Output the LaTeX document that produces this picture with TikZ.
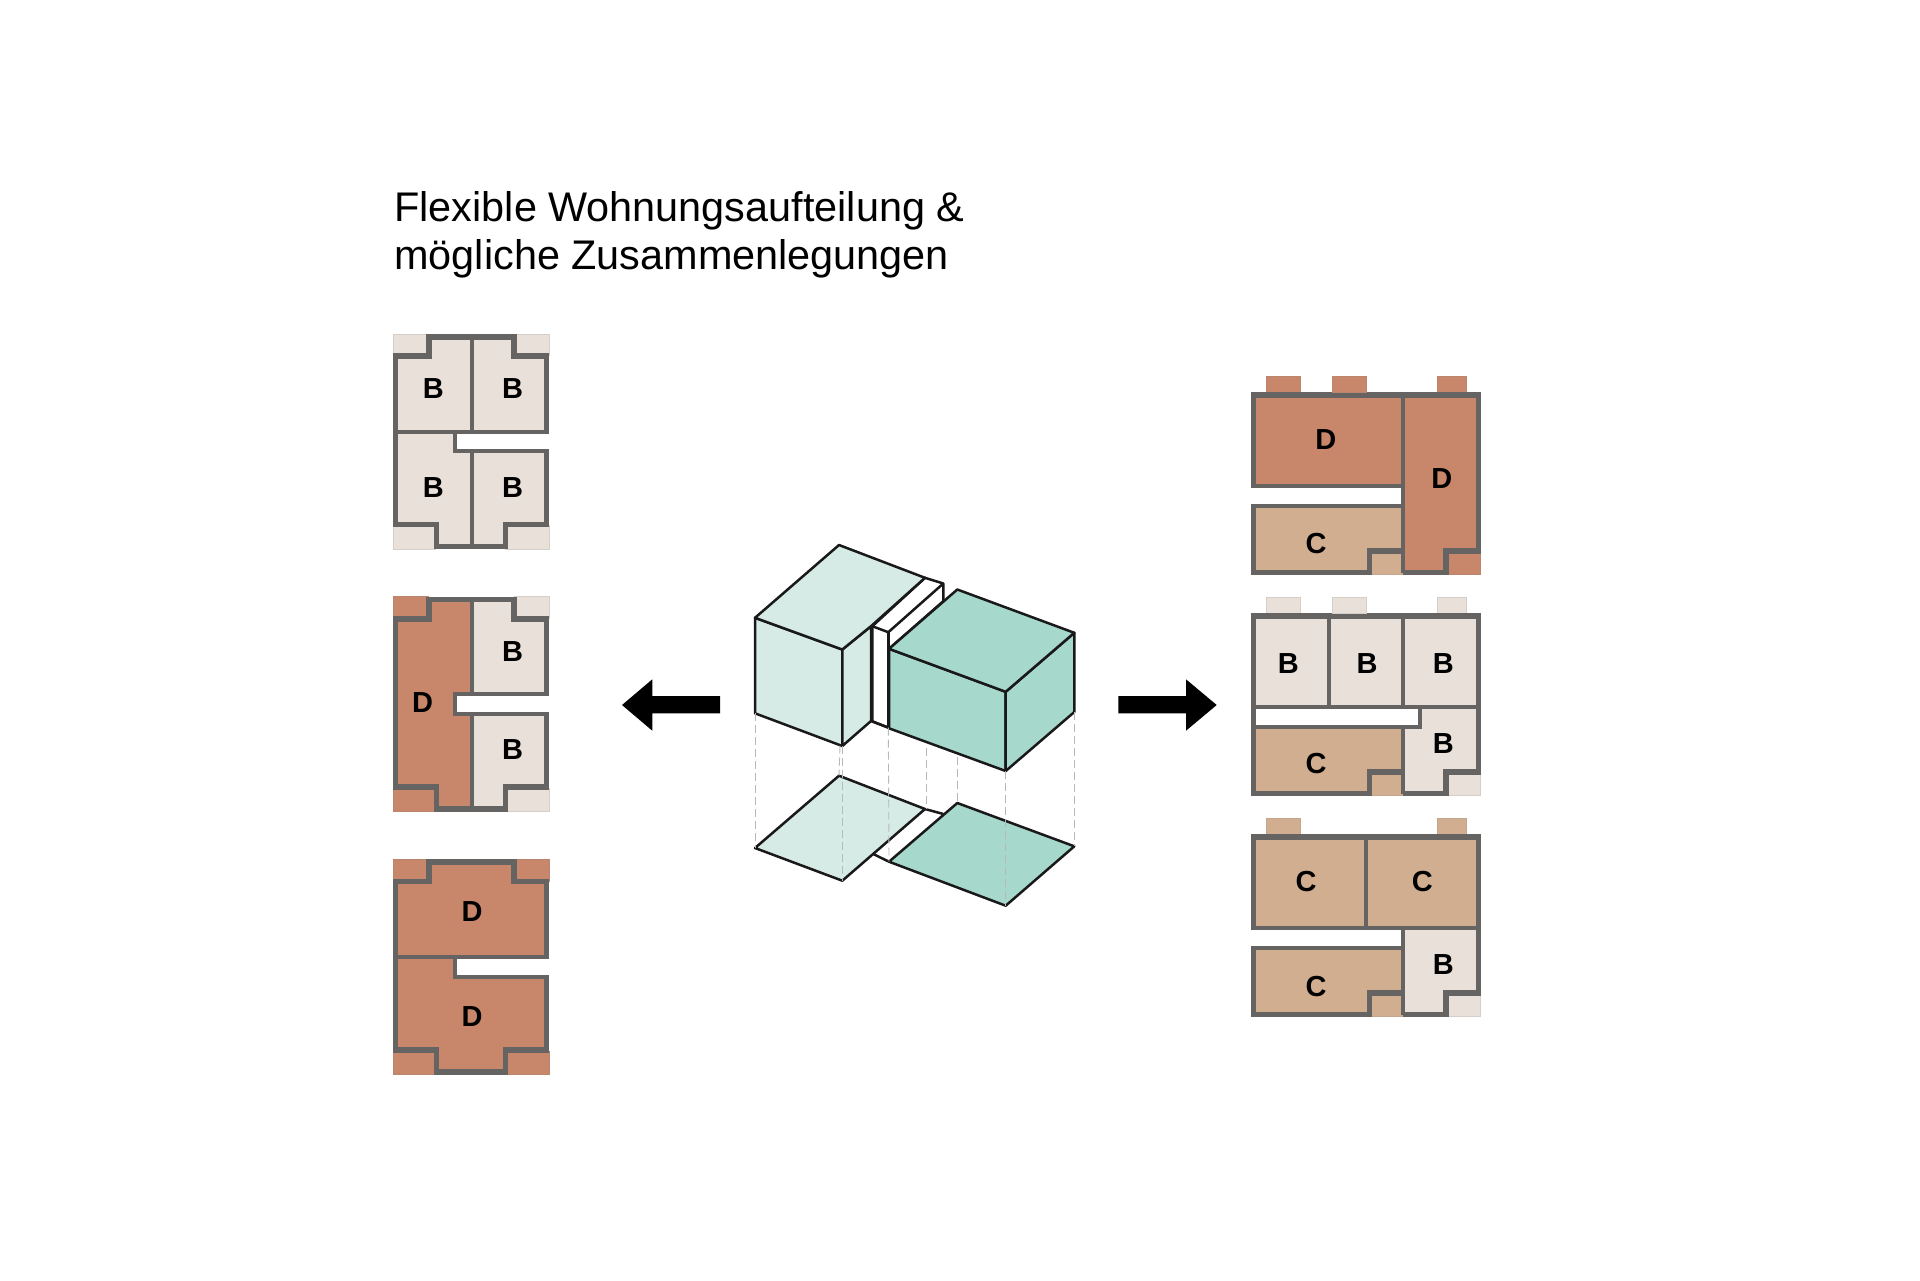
\documentclass[tikz,border=0pt]{standalone}
\usepackage{fontspec}
\setmainfont{Liberation Sans}
\definecolor{bcol}{HTML}{E9E1D9}
\definecolor{ccol}{HTML}{D2AE90}
\definecolor{dcol}{HTML}{C8866A}
\definecolor{wallcol}{HTML}{666462}
\definecolor{greenA}{HTML}{D6EBE6}
\definecolor{greenB}{HTML}{A6D8CC}
\tikzset{
	room/.style={font=\bfseries\fontsize{14.5}{14.5}\selectfont,inner sep=0pt},
	wall/.style={draw=wallcol,line width=2.8pt,line join=miter},
	inner/.style={draw=wallcol,line width=2pt},
	balcony/.style={draw=#1!82!gray,line width=0.5pt},
	edgeline/.style={draw=black!90,line width=1.25pt,line join=round},
	guide/.style={draw=black!28,line width=0.45pt,dash pattern=on 4pt off 2pt},
	bigarrow/.style={fill=black}
}
% plan with the core on the right, args: top, four room colours, partitions
\newcommand{\leftplan}[6]{
	\begin{scope}[shift={(393,#1)}]
		\fill[#2] (0,0) rectangle (80,99);
		\fill[#3] (78.7,0) rectangle (156,99);
		\fill[#4] (0,98) rectangle (80,215);
		\fill[#5] (78.7,98) rectangle (156,215);
		\draw[balcony=#2] (0,22) -- (0,0) -- (35.7,0);
		\draw[balcony=#3] (120.7,0) -- (156,0) -- (156,22);
		\draw[balcony=#4] (0,191) -- (0,215) -- (43.4,215);
		\draw[balcony=#5] (112.4,215) -- (156,215) -- (156,191);
		\fill[white] (62,99) rectangle (156,116);
		\draw[wall] (153.4,97.7) -- (153.4,22) -- (120.7,22) -- (120.7,2.7) -- (35.7,2.7) -- (35.7,22) -- (2.6,22) -- (2.6,190.5) -- (43.4,190.5) -- (43.4,212.4) -- (112.4,212.4) -- (112.4,190.5) -- (153.4,190.5) -- (153.4,117.3);
		\draw[inner] (156,97.7) -- (62,97.7) -- (62,117.3) -- (156,117.3);
		#6
	\end{scope}
}
% plan with the core at the bottom, args: top, top colour, lower right colour, corridor and partitions
\newcommand{\rightplan}[4]{
	\begin{scope}[shift={(1251,#1)}]
		\fill[#2] (0,0) rectangle (229.7,95);
		\fill[ccol] (0,94) rectangle (153,182.6);
		\fill[#3] (152.3,94) rectangle (229.7,182.6);
		\filldraw[fill=#2,balcony=#2] (15,0) rectangle (49,-16.3);
		\filldraw[fill=#2,balcony=#2] (186.3,0) rectangle (215,-16.3);
		\draw[balcony=ccol] (120,182.6) -- (152.3,182.6);
		\draw[balcony=#3] (196,182.6) -- (229.7,182.6) -- (229.7,160);
		\draw[wall] (2.6,94) -- (2.6,2.6) -- (227.3,2.6) -- (227.3,158.4) -- (194.7,158.4) -- (194.7,180.2) -- (152.3,180.2);
		\draw[wall] (152.3,158.4) -- (118.3,158.4) -- (118.3,180.2) -- (2.6,180.2) -- (2.6,113.4);
		#4
	\end{scope}
}
\begin{document}
\begin{tikzpicture}[x=0.5pt,y=-0.5pt]
	\useasboundingbox (0,0) rectangle (1920,1280);
	\fill[white] (0,0) rectangle (1920,1280);

	\node[anchor=north west,inner sep=0pt,align=left,font=\fontsize{20.7}{24}\selectfont] (title) at (394,191) {Flexible Wohnungsaufteilung \&\\m\"ogliche Zusammenlegungen};

	% left column
	\leftplan{334}{bcol}{bcol}{bcol}{bcol}{
		\draw[inner] (2,97.7) -- (62,97.7);
		\draw[inner] (78.7,2.7) -- (78.7,97.7);
		\draw[inner] (78.7,117.3) -- (78.7,212.4);
	}
	\leftplan{596.7}{dcol}{bcol}{dcol}{bcol}{
		\draw[inner] (78.7,2.7) -- (78.7,97.7);
		\draw[inner] (78.7,117.3) -- (78.7,212.4);
	}
	\leftplan{859.5}{dcol}{dcol}{dcol}{dcol}{
		\draw[inner] (2,97.7) -- (62,97.7);
	}

	\node[room] (bA) at (433.3,388.3) {B};
	\node[room] (bB) at (512.7,388.3) {B};
	\node[room] (bC) at (433.3,487.7) {B};
	\node[room] (bD) at (512.7,487.7) {B};
	\node[room] (dA) at (422.7,702.3) {D};
	\node[room] (bE) at (512.7,651.7) {B};
	\node[room] (bF) at (512.7,750) {B};
	\node[room] (dB) at (472,911.7) {D};
	\node[room] (dC) at (472,1016.7) {D};

	% right column
	\rightplan{392.3}{dcol}{dcol}{
		\filldraw[fill=dcol,balcony=dcol] (81.3,0) rectangle (115.7,-16.3);
		\fill[white] (0,95.4) rectangle (150.3,111.7);
		\draw[inner] (0,94) -- (152.3,94);
		\draw[inner] (0,113.4) -- (152.3,113.4);
		\draw[inner] (152.3,2.4) -- (152.3,180.2);
	}
	\rightplan{613.3}{bcol}{bcol}{
		\filldraw[fill=bcol,balcony=bcol] (81.3,0) rectangle (115.7,-16.3);
		\fill[white] (5,95.7) rectangle (167.3,111.7);
		\draw[wall] (2.6,92) -- (2.6,115);
		\draw[inner] (2.6,94) -- (227.3,94);
		\draw[inner] (2.6,113.4) -- (169.3,113.4) -- (169.3,94);
		\draw[inner] (78,2.4) -- (78,94);
		\draw[inner] (152.3,2.4) -- (152.3,94);
		\draw[inner] (152.3,113.4) -- (152.3,180.2);
	}
	\rightplan{834.3}{ccol}{bcol}{
		\fill[white] (0,95.7) rectangle (150.3,111.7);
		\draw[inner] (0,94) -- (227.3,94);
		\draw[inner] (0,113.4) -- (152.3,113.4);
		\draw[inner] (115,2.4) -- (115,94);
		\draw[inner] (152.3,94) -- (152.3,180.2);
	}

	\node[room] (dD) at (1325.7,440) {D};
	\node[room] (dE) at (1441.7,479) {D};
	\node[room] (cA) at (1316,543.3) {C};
	\node[room] (bG) at (1288.3,664) {B};
	\node[room] (bH) at (1367,664) {B};
	\node[room] (bI) at (1443.3,664) {B};
	\node[room] (bJ) at (1443.3,744) {B};
	\node[room] (cB) at (1316,764) {C};
	\node[room] (cC) at (1306,881.7) {C};
	\node[room] (cD) at (1422.3,881.7) {C};
	\node[room] (cE) at (1316,986) {C};
	\node[room] (bK) at (1443.3,965) {B};

	% arrows
	\fill[bigarrow] (622,705) -- (652.3,679.3) -- (652.3,696) -- (720,696) -- (720,713.3) -- (652.3,713.3) -- (652.3,730.7) -- cycle;
	\fill[bigarrow] (1216.7,705) -- (1186,679.3) -- (1186,696) -- (1118.3,696) -- (1118.3,713.3) -- (1186,713.3) -- (1186,730.7) -- cycle;

	% blocks
	\coordinate (la) at (755,617.8);
	\coordinate (lb) at (839,545);
	\coordinate (lc) at (842.3,649.5);
	\coordinate (ld) at (925,577.8);
	\coordinate (le) at (871,626.2);
	\coordinate (laB) at (755,713.3);
	\coordinate (lcB) at (842.3,746);
	\coordinate (leB) at (871,721);
	\coordinate (ka) at (872.3,626.2);
	\coordinate (kb) at (888.3,632.2);
	\coordinate (kc) at (943.3,583.5);
	\coordinate (kd) at (943.3,601.2);
	\coordinate (kaB) at (872.3,721.3);
	\coordinate (kbB) at (888.3,727.6);
	\coordinate (ra) at (889,648.8);
	\coordinate (rb) at (957.3,589.5);
	\coordinate (rc) at (1074.3,632.8);
	\coordinate (rd) at (1005.7,691.8);
	\coordinate (raB) at (889,728.3);
	\coordinate (rcB) at (1074.3,712);
	\coordinate (rdB) at (1005.7,771);
	% floor
	\coordinate (fa) at (755,848);
	\coordinate (fb) at (839,775.7);
	\coordinate (fc) at (842.3,880.7);
	\coordinate (fd) at (925,809);
	\coordinate (fe) at (873.3,854);
	\coordinate (ga) at (889,861.7);
	\coordinate (gb) at (957.3,803);
	\coordinate (gc) at (1074.3,846.3);
	\coordinate (gd) at (1005.7,905.7);
	\coordinate (ge) at (943.3,814);
	\coordinate (mA) at (926.7,747.5);
	\coordinate (mB) at (926.7,808);
	\coordinate (nA) at (957.3,756.5);
	\coordinate (pA) at (840,745.5);

	\filldraw[edgeline,fill=white] (ka) -- (ld) -- (kc) -- (kd) -- (ra) -- (kbB) -- (kaB) -- cycle;
	\draw[edgeline] (ka) -- (kb) -- (kc);
	\draw[edgeline] (kb) -- (kbB);
	\filldraw[edgeline,fill=greenA] (la) -- (lc) -- (lcB) -- (laB) -- cycle;
	\filldraw[edgeline,fill=greenA] (lc) -- (le) -- (leB) -- (lcB) -- cycle;
	\filldraw[edgeline,fill=greenA] (la) -- (lb) -- (ld) -- (le) -- (lc) -- cycle;
	\filldraw[edgeline,fill=greenB] (ra) -- (rd) -- (rdB) -- (raB) -- cycle;
	\filldraw[edgeline,fill=greenB] (rd) -- (rc) -- (rcB) -- (rdB) -- cycle;
	\filldraw[edgeline,fill=greenB] (ra) -- (rb) -- (rc) -- (rd) -- cycle;
	\draw[edgeline] (leB) -- (kbB);

	\filldraw[edgeline,fill=greenA] (fa) -- (fb) -- (fd) -- (fc) -- cycle;
	\filldraw[edgeline,fill=greenB] (ga) -- (gb) -- (gc) -- (gd) -- cycle;
	\draw[edgeline] (fd) -- (ge);
	\draw[edgeline] (fe) -- (ga);

	\draw[guide] (laB) -- (fa);
	\draw[guide] (pA) -- (fb);
	\draw[guide] (lcB) -- (fc);
	\draw[guide] (kbB) -- (ga);
	\draw[guide] (mA) -- (mB);
	\draw[guide] (nA) -- (gb);
	\draw[guide] (rdB) -- (gd);
	\draw[guide] (rcB) -- (gc);
\end{tikzpicture}
\end{document}
